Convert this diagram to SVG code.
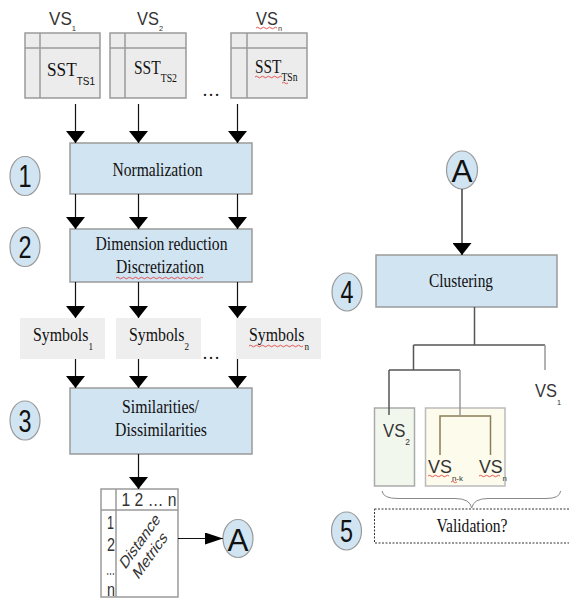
<svg xmlns="http://www.w3.org/2000/svg" width="569" height="599" viewBox="0 0 569 599">
<style>
.proc{fill:#d1e4f2;stroke:#9a9a9a;stroke-width:1.5}
.sst{fill:#ececec;stroke:#9a9a9a;stroke-width:1.5}
.mat{fill:#ffffff;stroke:#9a9a9a;stroke-width:1.5}
.grid{stroke:#9a9a9a;stroke-width:1.5;fill:none}
.sym{fill:#eeeeee}
.step{fill:#d1e4f2;stroke:#9a9a9a;stroke-width:1.2}
.num{font-family:"Liberation Sans",Arial,sans-serif;font-size:31px;fill:#111;text-anchor:middle}
.lbl{font-family:"Liberation Serif","Times New Roman",serif;font-size:19px;fill:#111;text-anchor:middle}
.ser{font-family:"Liberation Serif","Times New Roman",serif;font-size:19px;fill:#111;text-anchor:start}
.sans{font-family:"Liberation Sans",Arial,sans-serif;font-size:18px;fill:#333;text-anchor:start}
.conn{stroke:#111;stroke-width:1.2;fill:none}
.tree{stroke:#555;stroke-width:1.5;fill:none}
.tree2{stroke:#8b7f5a;stroke-width:1.5;fill:none}
.squig{stroke:#e03030;stroke-width:0.8;fill:none}
</style>
<defs>
<marker id="ah" viewBox="0 0 12 19" refX="12" refY="9.5" markerWidth="12" markerHeight="19" markerUnits="userSpaceOnUse" orient="auto">
<path d="M0,0 L12,9.5 L0,19 Z" fill="#000"/>
</marker>
<marker id="ahh" viewBox="0 0 18 12" refX="18" refY="6" markerWidth="18" markerHeight="12" markerUnits="userSpaceOnUse" orient="0">
<path d="M0,0 L18,6 L0,12 Z" fill="#000"/>
</marker>
</defs>
<rect width="569" height="599" fill="#ffffff"/>

<g id="sst1">
<text class="sans" x="49" y="25" font-size="16" textLength="27" lengthAdjust="spacingAndGlyphs">VS<tspan font-size="8" dy="6">1</tspan></text>
<rect class="sst" x="25" y="33" width="75" height="65"/>
<path class="grid" d="M40,33 V98 M25,48 H100"/>
<text class="ser" x="47" y="76" font-size="20" textLength="48" lengthAdjust="spacingAndGlyphs">SST<tspan font-family="Liberation Sans" font-size="11" dy="9">TS1</tspan></text>
</g>
<g id="sst2">
<text class="sans" x="137" y="25" font-size="16" textLength="26" lengthAdjust="spacingAndGlyphs">VS<tspan font-size="8" dy="6">2</tspan></text>
<rect class="sst" x="110" y="33" width="76" height="65"/>
<path class="grid" d="M125,33 V98 M110,48 H186"/>
<text class="ser" x="134" y="74" font-size="19" textLength="43" lengthAdjust="spacingAndGlyphs">SST<tspan font-size="12" dy="8">TS2</tspan></text>
</g>
<text class="ser" x="202" y="96" textLength="18" lengthAdjust="spacingAndGlyphs">…</text>
<g id="sstn">
<text class="sans" x="256" y="25" font-size="16" textLength="26" lengthAdjust="spacingAndGlyphs">VS<tspan font-size="8" dy="6">n</tspan></text>
<path class="squig" d="M256,28 q1.5,-1.5 3,0 t3,0 t3,0 t3,0 t3,0 t3,0 t3,0"/>
<rect class="sst" x="231" y="33" width="76" height="65"/>
<path class="grid" d="M247,33 V98 M231,48 H307"/>
<text class="ser" x="255" y="73" font-size="19" textLength="42.5" lengthAdjust="spacingAndGlyphs">SST<tspan font-size="12" dy="8">TSn</tspan></text>
<path class="squig" d="M255,77 q1.5,-1.5 3,0 t3,0 t3,0 t3,0 t3,0 t3,0 t3,0 t3,0 t3,0 M282,83 q1.5,-1.5 3,0 t3,0"/>
</g>

<g id="step1"><ellipse class="step" cx="25" cy="176" rx="15" ry="19.5"/><text class="num" x="25" y="187" textLength="13" lengthAdjust="spacingAndGlyphs">1</text></g>
<g id="normalization">
<rect class="proc" x="70" y="143" width="182" height="51"/>
<text class="lbl" x="157.5" y="176" textLength="90" lengthAdjust="spacingAndGlyphs">Normalization</text>
</g>

<g id="step2"><ellipse class="step" cx="25" cy="247" rx="15" ry="19.5"/><text class="num" x="25" y="258" textLength="13" lengthAdjust="spacingAndGlyphs">2</text></g>
<g id="reduction">
<rect class="proc" x="70" y="229" width="182" height="53"/>
<text class="lbl" x="161.5" y="250" textLength="132" lengthAdjust="spacingAndGlyphs">Dimension reduction</text>
<text class="lbl" x="160" y="273" textLength="88" lengthAdjust="spacingAndGlyphs">Discretization</text>
<path class="squig" d="M116,278 q1.5,-1.5 3,0 t3,0 t3,0 t3,0 t3,0 t3,0 t3,0 t3,0 t3,0 t3,0 t3,0 t3,0 t3,0 t3,0 t3,0 t3,0 t3,0 t3,0 t3,0 t3,0 t3,0 t3,0 t3,0 t3,0 t3,0 t3,0 t3,0 t3,0 t3,0"/>
</g>

<g id="symbols1">
<rect class="sym" x="20" y="318" width="85" height="41"/>
<text class="ser" x="33" y="341" font-size="16" textLength="60" lengthAdjust="spacingAndGlyphs">Symbols<tspan font-size="11" dy="9">1</tspan></text>
</g>
<g id="symbols2">
<rect class="sym" x="116" y="318" width="85" height="41"/>
<text class="ser" x="129" y="341" font-size="16" textLength="60" lengthAdjust="spacingAndGlyphs">Symbols<tspan font-size="11" dy="9">2</tspan></text>
</g>
<text class="ser" x="202" y="359" textLength="18" lengthAdjust="spacingAndGlyphs">…</text>
<g id="symbolsn">
<rect class="sym" x="236" y="318" width="85" height="41"/>
<text class="ser" x="249" y="341" font-size="16" textLength="60" lengthAdjust="spacingAndGlyphs">Symbols<tspan font-size="11" dy="9">n</tspan></text>
<path class="squig" d="M249,346 q1.5,-1.5 3,0 t3,0 t3,0 t3,0 t3,0 t3,0 t3,0 t3,0 t3,0 t3,0 t3,0 t3,0 t3,0 t3,0 t3,0 t3,0 t3,0 t3,0"/>
</g>

<g id="step3"><ellipse class="step" cx="25" cy="420.5" rx="15" ry="19.5"/><text class="num" x="25" y="431.5" textLength="13" lengthAdjust="spacingAndGlyphs">3</text></g>
<g id="similarities">
<rect class="proc" x="70" y="388" width="182" height="66"/>
<text class="lbl" x="160.5" y="412.5" textLength="77" lengthAdjust="spacingAndGlyphs">Similarities/</text>
<text class="lbl" x="161" y="435.5" textLength="92" lengthAdjust="spacingAndGlyphs">Dissimilarities</text>
</g>

<g id="matrix">
<rect class="mat" x="101" y="489" width="77" height="108"/>
<path class="grid" d="M116,489 V597 M101,510 H178"/>
<text class="sans" x="121.5" y="506" textLength="55" lengthAdjust="spacingAndGlyphs">1 2 … n</text>
<text class="sans" x="107" y="529" textLength="7" lengthAdjust="spacingAndGlyphs">1</text>
<text class="sans" x="107" y="551" textLength="8" lengthAdjust="spacingAndGlyphs">2</text>
<text class="sans" x="106" y="575" font-size="12" textLength="9" lengthAdjust="spacingAndGlyphs">…</text>
<text class="sans" x="107" y="596" textLength="8" lengthAdjust="spacingAndGlyphs">n</text>
<g transform="translate(145,548) scale(0.72,1) rotate(-45)">
<text class="sans" x="0" y="-4" font-size="17" style="text-anchor:middle" textLength="70" lengthAdjust="spacingAndGlyphs">Distance</text>
<text class="sans" x="0" y="16" font-size="17" style="text-anchor:middle" textLength="59" lengthAdjust="spacingAndGlyphs">Metrics</text>
</g>
</g>
<g id="a-left"><ellipse class="step" cx="238" cy="538.5" rx="15" ry="19"/><text class="num" x="238" y="550.5" font-size="33" textLength="21" lengthAdjust="spacingAndGlyphs">A</text></g>

<g id="a-right"><ellipse class="step" cx="462" cy="170" rx="15.5" ry="19"/><text class="num" x="462" y="182" font-size="33" textLength="21" lengthAdjust="spacingAndGlyphs">A</text></g>
<g id="step4"><ellipse class="step" cx="347" cy="292" rx="15" ry="19"/><text class="num" x="347" y="303" textLength="13" lengthAdjust="spacingAndGlyphs">4</text></g>
<g id="clustering">
<rect class="proc" x="376" y="255" width="181" height="52"/>
<text class="lbl" x="461" y="287" textLength="64" lengthAdjust="spacingAndGlyphs">Clustering</text>
</g>

<g id="vs1">
<text class="sans" x="535" y="397" textLength="26" lengthAdjust="spacingAndGlyphs">VS<tspan font-size="8" dy="8">1</tspan></text>
</g>
<g id="cluster-vs2">
<rect x="374.5" y="408" width="40" height="78" fill="#f2f7ee" stroke="#aaaaaa" stroke-width="1.5"/>
<text class="sans" x="383" y="437" textLength="27" lengthAdjust="spacingAndGlyphs">VS<tspan font-size="9" dy="8">2</tspan></text>
</g>
<g id="cluster-vsn">
<rect x="425.5" y="408" width="79.5" height="78" fill="#fdfbeb" stroke="#bbbbbb" stroke-width="1.5"/>
<path class="tree2" d="M440,455 V416 H490.5 V455"/>
<text class="sans" x="428" y="473" textLength="35" lengthAdjust="spacingAndGlyphs">VS<tspan font-size="8" dy="8">n-k</tspan></text>
<text class="sans" x="479" y="473" textLength="28" lengthAdjust="spacingAndGlyphs">VS<tspan font-size="8" dy="8">n</tspan></text>
<path class="squig" d="M428,476 q1.5,-1.5 3,0 t3,0 t3,0 t3,0 t3,0 t3,0 t3,0 M451,482 q1.5,-1.5 3,0 t3,0 M479,476 q1.5,-1.5 3,0 t3,0 t3,0 t3,0 t3,0 t3,0 t3,0"/>
</g>

<g id="step5"><ellipse class="step" cx="346.5" cy="531" rx="15" ry="19"/><text class="num" x="346.5" y="542" textLength="13" lengthAdjust="spacingAndGlyphs">5</text></g>
<g id="validation">
<rect x="374.5" y="509" width="196" height="34" fill="none" stroke="#333" stroke-width="1" stroke-dasharray="2,1.5"/>
<text class="lbl" x="472" y="531.5" textLength="71" lengthAdjust="spacingAndGlyphs">Validation?</text>
</g>

<g id="connectors">
<path class="conn" d="M75.5,104 V143" marker-end="url(#ah)"/>
<path class="conn" d="M138.5,104 V143" marker-end="url(#ah)"/>
<path class="conn" d="M237.5,104 V143" marker-end="url(#ah)"/>
<path class="conn" d="M75.5,194 V229" marker-end="url(#ah)"/>
<path class="conn" d="M138.5,194 V229" marker-end="url(#ah)"/>
<path class="conn" d="M237.5,194 V229" marker-end="url(#ah)"/>
<path class="conn" d="M75.5,282 V318" marker-end="url(#ah)"/>
<path class="conn" d="M138.5,282 V318" marker-end="url(#ah)"/>
<path class="conn" d="M237.5,282 V318" marker-end="url(#ah)"/>
<path class="conn" d="M75.5,359 V388" marker-end="url(#ah)"/>
<path class="conn" d="M138.5,359 V388" marker-end="url(#ah)"/>
<path class="conn" d="M237.5,359 V388" marker-end="url(#ah)"/>
<path class="conn" d="M138.5,454 V489" marker-end="url(#ah)"/>
<path class="conn" d="M178,538.5 H223" marker-end="url(#ahh)"/>
<path class="conn" d="M462,189 V255" marker-end="url(#ah)"/>
<path class="tree" d="M474.5,307 V345 M413.5,345 H545 M413.5,345 V370 M389,370 H460 M389,370 V415"/>
<path d="M545,345 V370 M460,370 V416" stroke="#999999" stroke-width="1.5" fill="none"/>
<path d="M382,491 Q383,498.5 398,498.5 H455 Q470,498.5 471.7,508 Q473.5,498.5 488,498.5 H546 Q560,498.5 560.6,491" stroke="#888" stroke-width="1" fill="none"/>
</g>
</svg>
